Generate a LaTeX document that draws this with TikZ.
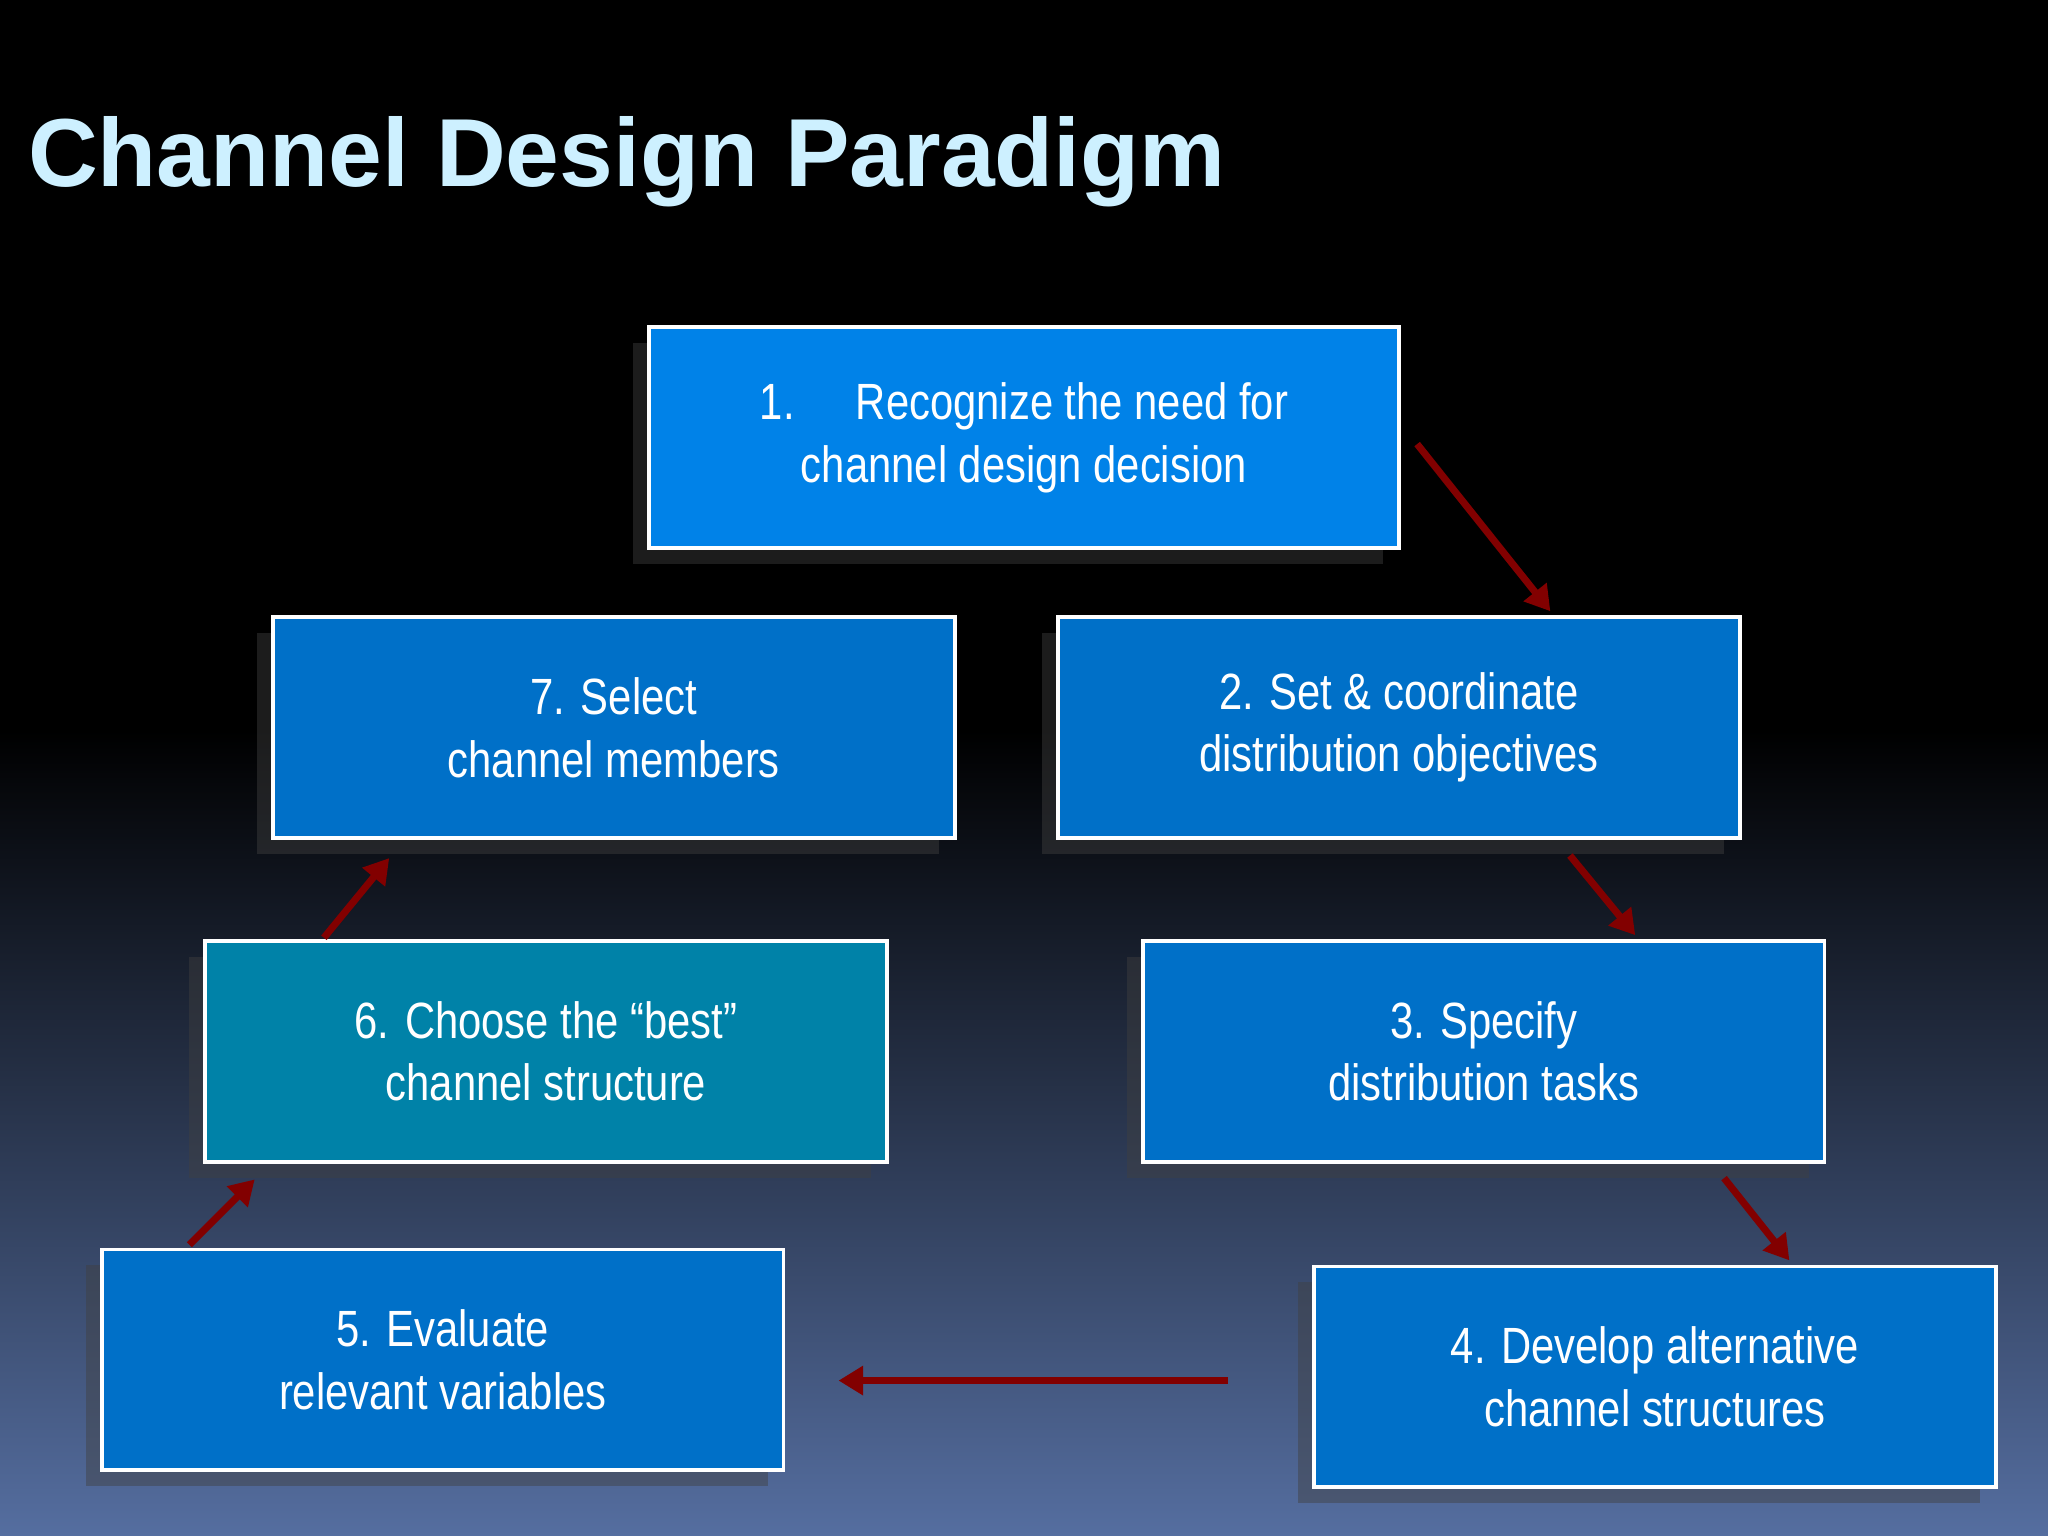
\documentclass[tikz,border=0pt]{standalone}
\usepackage{fontspec}
\setmainfont{Liberation Sans}[FakeStretch=0.82]
\newfontfamily\titlefont{Liberation Sans}
\usetikzlibrary{arrows.meta,shadows}
\definecolor{bgbot}{RGB}{85,110,160}
\definecolor{boxblue}{RGB}{0,112,200}
\definecolor{boxbright}{RGB}{0,130,232}
\definecolor{boxteal}{RGB}{0,130,168}
\definecolor{arr}{RGB}{130,0,0}
\definecolor{ttl}{RGB}{205,240,255}
\tikzset{
 stepbox/.style={draw=white,line width=1pt,fill=boxblue,text=white,align=center,
   minimum width=522*0.013061cm,minimum height=169*0.013061cm,inner sep=0pt,
   font=\fontsize{14.5}{17.8}\selectfont,
   drop shadow={shadow xshift=-0.16cm,shadow yshift=-0.16cm,fill=gray!50!black,opacity=0.45}},
 flow/.style={draw=arr,line width=2pt,-{Triangle[length=7pt,width=8pt]}}
}
\begin{document}
\begin{tikzpicture}[x=0.013061cm,y=-0.013061cm]
\fill[black] (0,0) rectangle (1568,560);
\shade[top color=black,bottom color=bgbot] (0,559) rectangle (1568,1176);
\useasboundingbox (0,0) rectangle (1568,1176);
\node[anchor=west,text=ttl,font=\titlefont\bfseries\fontsize{27.5}{33}\selectfont] (title) at (12,124) {Channel Design Paradigm};
\node[stepbox,fill=boxbright,minimum width=574*0.013061cm] (s1) at (784,335) {1.\hspace{1.2em}Recognize the need for\\channel design decision};
\node[stepbox] (s7) at (470,557) {7. Select\\channel members};
\node[stepbox] (s2) at (1071,557) {2. Set \& coordinate\\distribution objectives};
\node[stepbox,fill=boxteal] (s6) at (418,805) {6. Choose the “best”\\channel structure};
\node[stepbox] (s3) at (1136,805) {3. Specify\\distribution tasks};
\node[stepbox] (s5) at (339,1041) {5. Evaluate\\relevant variables};
\node[stepbox] (s4) at (1267,1054) {4. Develop alternative\\channel structures};
\coordinate (a1) at (1085,340); \coordinate (b1) at (1187,468);
\coordinate (a2) at (1202,655); \coordinate (b2) at (1252,716);
\coordinate (a3) at (1320,902); \coordinate (b3) at (1370,965);
\coordinate (a4) at (940,1057); \coordinate (b4) at (642,1057);
\coordinate (a5) at (145,953); \coordinate (b5) at (195,903);
\coordinate (a6) at (248,718); \coordinate (b6) at (298,657);
\foreach \i in {1,...,6} \draw[flow] (a\i) -- (b\i);
\end{tikzpicture}
\end{document}
